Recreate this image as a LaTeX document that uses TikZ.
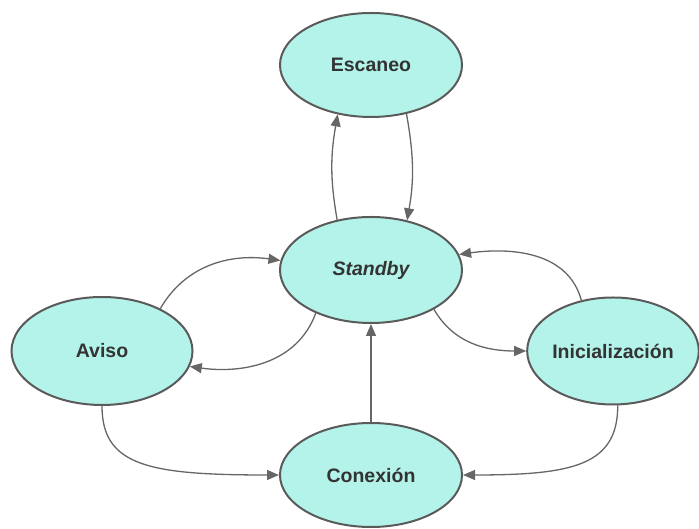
\documentclass[tikz,border=0pt]{standalone}
\usepackage{fontspec}
\setmainfont{Liberation Sans}
\usetikzlibrary{shapes.geometric,arrows.meta}
\definecolor{fillc}{HTML}{B4F3EA}
\definecolor{borderc}{HTML}{5A5A5A}
\definecolor{linec}{HTML}{666666}
\definecolor{textc}{HTML}{333333}
\begin{document}
\begin{tikzpicture}[x=1pt,y=1pt,
  state/.style={ellipse, draw=borderc, line width=2pt, fill=fillc, inner sep=0pt,
    text=textc, font=\fontsize{19.5}{23}\selectfont\bfseries},
  conn/.style={draw=linec, line width=1.3pt, -{Triangle[length=12pt,width=10pt]}}]
\useasboundingbox (0,0) rectangle (699,529);
\node[state, minimum width=182pt, minimum height=104pt] (esc) at (371,464) {Escaneo};
\node[state, minimum width=182pt, minimum height=106pt] (stb) at (371,259) {\itshape Standby};
\node[state, minimum width=181pt, minimum height=108pt] (avi) at (102,178) {Aviso};
\node[state, minimum width=171pt, minimum height=107pt] (ini) at (613,178) {Inicialización};
\node[state, minimum width=182pt, minimum height=104pt] (con) at (371,54) {Conexión};

\draw[conn] (stb.124) to[out=100,in=-100] (esc.236);
\draw[conn] (esc.-54) to[out=-80,in=80] (stb.54);
\draw[conn] (avi.36) to[out=60,in=172] (stb.174);
\draw[conn] (stb.218) to[out=-110,in=-8] (avi.-10);
\draw[conn] (ini.122) to[out=105,in=8] (stb.10);
\draw[conn] (stb.-32) to[out=-60,in=180] (ini.west);
\draw[conn] (avi.south) to[out=-90,in=180,out distance=60pt,in distance=130pt] (con.west);
\draw[conn] (ini.-85) to[out=-90,in=0,out distance=60pt,in distance=110pt] (con.east);
\draw[conn] (con.north) -- (stb.south);
\end{tikzpicture}
\end{document}
